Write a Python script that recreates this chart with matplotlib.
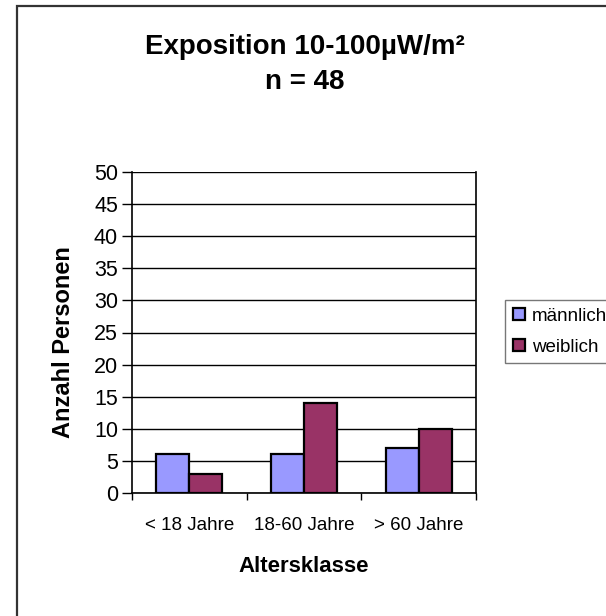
import matplotlib
matplotlib.use("Agg")
import matplotlib.pyplot as plt
import numpy as np
from matplotlib.patches import Rectangle
from matplotlib.lines import Line2D

categories = ["< 18 Jahre", "18-60 Jahre", "> 60 Jahre"]
maennlich = [6, 6, 7]
weiblich = [3, 14, 10]
series_names = ["männlich", "weiblich"]
colors = ["#9999FF", "#993366"]

plt.rcParams['font.family'] = ['Liberation Sans', 'DejaVu Sans']

W, H = 606, 616
fig = plt.figure(figsize=(W / 100, H / 100), dpi=100)
ax = fig.add_axes([132 / W, 1 - 493 / H, (476 - 132) / W, (493 - 172) / H])

x = np.arange(len(categories))
bw = 0.287
ax.bar(x - bw / 2, maennlich, bw, color=colors[0], edgecolor="black", linewidth=1.6, zorder=3)
ax.bar(x + bw / 2, weiblich, bw, color=colors[1], edgecolor="black", linewidth=1.6, zorder=3)

ax.set_xlim(-0.5, len(categories) - 0.5)
ax.set_ylim(0, 50)
ax.set_yticks(np.arange(0, 51, 5))
ax.set_xticks(x)
ax.set_xticklabels(categories, fontsize=13.5)
ax.set_xticks(np.arange(-0.5, len(categories), 1), minor=True)
ax.tick_params(axis='x', which='major', length=0, pad=17)
ax.tick_params(axis='x', which='minor', length=5, color='black', width=1)
ax.tick_params(axis='y', length=7, width=1, color='black', labelsize=15.5, pad=3)
ax.yaxis.grid(True, color='black', linewidth=1, zorder=0)
ax.set_axisbelow(True)
for s in ['left', 'bottom', 'right']:
    ax.spines[s].set_color('black')
    ax.spines[s].set_linewidth(1.2)
ax.spines['top'].set_visible(False)

fig.text(0.503, 1 - 47 / H, "Exposition 10-100µW/m²", ha='center', va='center',
         fontsize=20, fontweight='bold')
fig.text(0.503, 1 - 82 / H, "n = 48", ha='center', va='center',
         fontsize=20, fontweight='bold')
fig.text(63 / W, 1 - 342 / H, "Anzahl Personen", rotation=90, ha='center', va='center',
         fontsize=17, fontweight='bold')
fig.text(304 / W, 1 - 566 / H, "Altersklasse", ha='center', va='center',
         fontsize=16, fontweight='bold')

handles = [Line2D([], [], linestyle='none', marker='s', markersize=9,
                  markerfacecolor=c, markeredgecolor='black', markeredgewidth=1.6)
           for c in colors]
leg = fig.legend(handles, series_names, loc='upper left',
                 bbox_to_anchor=(505 / W, 1 - 300 / H), fontsize=13.5,
                 frameon=True, fancybox=False, edgecolor='#555555',
                 handlelength=0.7, handletextpad=0.35, borderpad=0.4,
                 labelspacing=0.75, borderaxespad=0)
leg.get_frame().set_linewidth(1)

fig.patches.append(Rectangle((17 / W, -0.02), 1.1, 1 - 6 / H + 0.02,
                             transform=fig.transFigure, fill=False,
                             edgecolor='#333333', linewidth=1.6))

fig.savefig("out.png", dpi=100, facecolor='white')
